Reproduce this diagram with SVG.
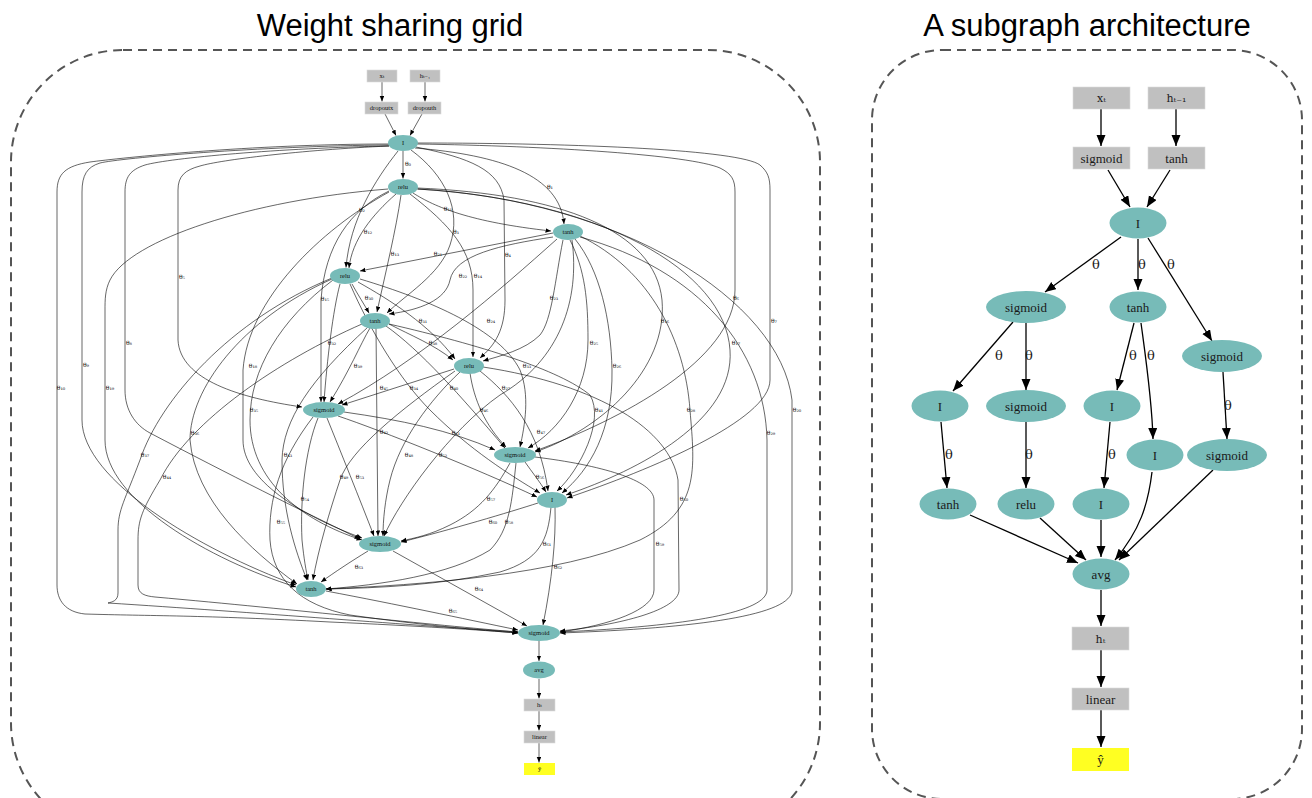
<svg xmlns="http://www.w3.org/2000/svg" width="1312" height="798" viewBox="0 0 1312 798">
<defs>
<marker id="al" markerUnits="userSpaceOnUse" markerWidth="6" markerHeight="5" refX="5.5" refY="2.25" orient="auto"><path d="M0,0 L5.5,2.25 L0,4.5z" fill="#000"/></marker>
<marker id="ar" markerUnits="userSpaceOnUse" markerWidth="12" markerHeight="10" refX="11" refY="4.5" orient="auto"><path d="M0,0 L11,4.5 L0,9z" fill="#000"/></marker>
</defs>
<style>
.n{fill:#77bbb8}
.b{fill:#c0c0c0;stroke:#dadada;stroke-width:0.6}
.y{fill:#ffff22}
.t{font-family:"Liberation Serif","DejaVu Serif",serif;font-size:6.5px;text-anchor:middle;fill:#111}
.l{font-family:"DejaVu Serif",serif;font-size:6px;text-anchor:middle;fill:#111}
.e{fill:none;stroke:#000;stroke-width:0.6;marker-end:url(#al)}
.E{fill:none;stroke:#000;stroke-width:1.3;marker-end:url(#ar)}
.T{font-family:"Liberation Serif","DejaVu Serif",serif;font-size:13px;text-anchor:middle;fill:#1a1a1a}
.S{font-family:"DejaVu Serif",serif;font-size:11px;text-anchor:middle;fill:#1a1a1a}
.L{font-family:"DejaVu Serif",serif;font-size:13px;text-anchor:middle;fill:#1a1a1a}
.frame{fill:none;stroke:#555;stroke-width:2;stroke-dasharray:9,6}
.title{font-family:"Liberation Sans",Arial,sans-serif;font-size:31px;text-anchor:middle;fill:#000}
</style>
<rect width="1312" height="798" fill="#fff"/>
<g id="panels">
<rect class="frame" x="11" y="50" width="809" height="785" rx="112" ry="112"/>
<rect class="frame" x="872" y="50" width="430" height="749" rx="70" ry="70"/>
<text class="title" x="390" y="36">Weight sharing grid</text>
<text class="title" x="1087" y="36">A subgraph architecture</text>
</g>

<g id="connectors-left">
<path class="e" d="M382,82 L382,101.5"/>
<path class="e" d="M425,82 L425,101.5"/>
<path class="e" d="M385,114 L396,135.5"/>
<path class="e" d="M422,114 L410,135.5"/>
<path class="e" d="M403,151 L403,178.5"/>
<path class="e" d="M415,148 C500,155 560,175 564,224"/>
<path class="e" d="M398,151 C375,180 350,220 346,267.5"/>
<path class="e" d="M411,150 C445,175 462,210 450,245 C440,275 405,295 387,313"/>
<path class="e" d="M416,147 C470,158 500,170 504,200 L505,300 C505,330 495,345 480,358"/>
<path class="e" d="M389,146 C300,150 220,160 200,166 C185,170 178,176 178,190 L178,340 C180,380 240,398 302,407"/>
<path class="e" d="M417,144 C550,146 690,155 720,168 C732,174 735,180 735,192 L735,290 C735,360 620,420 535,451"/>
<path class="e" d="M417,143 C580,143 740,150 760,165 C768,172 770,178 770,190 L770,380 C770,420 650,470 567,498"/>
<path class="e" d="M389,146 C280,148 170,158 145,165 C130,170 125,177 125,192 L125,390 C125,410 135,425 150,433 C230,475 300,510 360,539"/>
<path class="e" d="M389,145 C260,146 120,158 100,163 C87,167 82,175 82,192 L82,420 C82,480 200,550 296,585"/>
<path class="e" d="M389,144 C250,144 120,158 90,162 C65,166 57,174 57,192 L57,585 C57,600 65,612 85,614 C150,616 200,615 330,622 C420,626 480,630 518,633"/>
<path class="e" d="M413,193 C435,207 470,222 551,231"/>
<path class="e" d="M396,194 C372,215 352,240 349,268"/>
<path class="e" d="M401,195 C396,230 385,275 377,312"/>
<path class="e" d="M410,194 C450,225 473,250 473,290 L473,357"/>
<path class="e" d="M389,191 C350,210 325,245 321,300 L321,402"/>
<path class="e" d="M417,188 C560,194 655,230 662,300 C668,370 600,430 535,452"/>
<path class="e" d="M417,189 C600,200 725,270 730,350 C735,420 640,470 566,495"/>
<path class="e" d="M389,192 C320,230 248,300 243,370 L243,440 C243,480 300,515 362,538"/>
<path class="e" d="M388,189 C250,200 130,240 110,280 C105,290 105,300 105,310 L105,440 C105,500 210,560 296,587"/>
<path class="e" d="M418,189 C620,200 780,300 792,400 L792,590 C792,615 700,628 560,633"/>
<path class="e" d="M553,233 L360,271"/>
<path class="e" d="M553,237 C500,245 455,255 450,280 C446,300 420,310 389,314"/>
<path class="e" d="M563,240 C555,280 552,320 540,335 C525,350 500,356 483,361"/>
<path class="e" d="M557,239 C500,290 420,360 338,404"/>
<path class="e" d="M570,240 C585,270 588,300 588,340 C588,390 560,430 528,448"/>
<path class="e" d="M575,239 C600,270 611,320 612,370 C613,430 590,470 562,493"/>
<path class="e" d="M572,240 C580,300 560,360 500,395 C450,430 400,500 384,536"/>
<path class="e" d="M580,236 C650,270 685,340 690,410 C695,470 700,510 640,540 C560,575 420,585 326,589"/>
<path class="e" d="M580,237 C700,270 765,350 767,440 L767,590 C767,612 690,626 560,632"/>
<path class="e" d="M352,284 C358,295 364,304 369,313"/>
<path class="e" d="M358,282 C390,300 430,325 455,359"/>
<path class="e" d="M340,284 C333,310 327,360 324,402"/>
<path class="e" d="M360,279 C430,300 500,330 520,370 C530,395 525,425 520,447"/>
<path class="e" d="M350,284 C370,330 400,380 430,410 C470,450 510,475 540,493"/>
<path class="e" d="M333,280 C280,320 250,370 250,420 C250,480 300,520 362,540"/>
<path class="e" d="M332,279 C240,320 190,390 190,440 C195,500 250,550 297,584"/>
<path class="e" d="M332,278 C230,320 160,400 140,460 C125,500 118,510 118,530 L118,593 C118,601 112,602 108,603 C250,612 420,626 518,632"/>
<path class="e" d="M389,324 C410,335 435,345 453,360"/>
<path class="e" d="M370,328 C360,345 350,370 330,402"/>
<path class="e" d="M386,326 C420,350 460,395 505,448"/>
<path class="e" d="M389,324 C480,345 560,370 590,395 C605,420 580,470 557,491"/>
<path class="e" d="M376,328 L378,536"/>
<path class="e" d="M368,327 C310,380 283,420 282,460 C282,510 295,550 307,580"/>
<path class="e" d="M362,324 C280,360 190,420 160,480 C142,510 138,520 138,540 L138,585 C138,594 145,596 155,597 C300,610 430,625 518,632"/>
<path class="e" d="M454,369 L342,405"/>
<path class="e" d="M470,373 C474,400 485,425 506,447"/>
<path class="e" d="M480,371 C510,395 540,430 548,491"/>
<path class="e" d="M460,372 C430,400 400,440 390,480 C385,500 383,520 383,536"/>
<path class="e" d="M455,371 C400,410 350,450 340,480 C330,510 318,550 313,580"/>
<path class="e" d="M483,367 C600,385 670,430 678,480 L679,590 C679,610 620,625 560,631"/>
<path class="e" d="M344,412 C400,420 450,430 495,450"/>
<path class="e" d="M338,416 C380,430 480,470 537,497"/>
<path class="e" d="M327,418 C340,450 360,500 374,536"/>
<path class="e" d="M318,418 C305,450 300,500 302,540 C304,560 306,570 308,580"/>
<path class="e" d="M313,417 C280,460 268,500 270,540 C273,580 300,605 350,615 C420,625 480,630 518,633"/>
<path class="e" d="M525,462 C532,472 540,482 546,492"/>
<path class="e" d="M510,463 C495,490 480,510 450,525 C430,535 415,538 401,541"/>
<path class="e" d="M516,463 C512,500 510,530 490,550 C450,575 380,585 326,589"/>
<path class="e" d="M535,457 C600,465 654,480 654,500 L654,590 C654,610 610,625 560,632"/>
<path class="e" d="M538,503 C510,512 450,530 401,542"/>
<path class="e" d="M551,507 C548,540 540,560 500,572 C440,585 380,588 326,589"/>
<path class="e" d="M555,507 C556,540 552,580 543,625"/>
<path class="e" d="M368,551 C350,562 335,572 321,582"/>
<path class="e" d="M393,551 L527,626"/>
<path class="e" d="M326,591 C400,605 460,618 518,630"/>
<path class="e" d="M539,641 L539,661"/>
<path class="e" d="M539,679 L539,698.5"/>
<path class="e" d="M539,711 L539,730.5"/>
<path class="e" d="M539,743 L539,762.5"/>
</g>

<g id="edge-labels-left">
<text class="l" x="408" y="166">θ₀</text>
<text class="l" x="550" y="189">θ₁</text>
<text class="l" x="362" y="212">θ₂</text>
<text class="l" x="456" y="234">θ₃</text>
<text class="l" x="508" y="257">θ₄</text>
<text class="l" x="182" y="279">θ₅</text>
<text class="l" x="736" y="300">θ₆</text>
<text class="l" x="774" y="323">θ₇</text>
<text class="l" x="129" y="345">θ₈</text>
<text class="l" x="86" y="367">θ₉</text>
<text class="l" x="61" y="390">θ₁₀</text>
<text class="l" x="448" y="211">θ₁₁</text>
<text class="l" x="368" y="234">θ₁₂</text>
<text class="l" x="395" y="256">θ₁₃</text>
<text class="l" x="478" y="278">θ₁₄</text>
<text class="l" x="325" y="301">θ₁₅</text>
<text class="l" x="665" y="323">θ₁₆</text>
<text class="l" x="736" y="345">θ₁₇</text>
<text class="l" x="253" y="368">θ₁₈</text>
<text class="l" x="110" y="390">θ₁₉</text>
<text class="l" x="797" y="412">θ₂₀</text>
<text class="l" x="438" y="256">θ₂₁</text>
<text class="l" x="463" y="278">θ₂₂</text>
<text class="l" x="554" y="300">θ₂₃</text>
<text class="l" x="491" y="323">θ₂₄</text>
<text class="l" x="594" y="345">θ₂₅</text>
<text class="l" x="617" y="368">θ₂₆</text>
<text class="l" x="506" y="390">θ₂₇</text>
<text class="l" x="691" y="412">θ₂₈</text>
<text class="l" x="771" y="435">θ₂₉</text>
<text class="l" x="369" y="300">θ₃₀</text>
<text class="l" x="423" y="323">θ₃₁</text>
<text class="l" x="332" y="345">θ₃₂</text>
<text class="l" x="527" y="368">θ₃₃</text>
<text class="l" x="414" y="390">θ₃₄</text>
<text class="l" x="254" y="412">θ₃₅</text>
<text class="l" x="195" y="435">θ₃₆</text>
<text class="l" x="145" y="457">θ₃₇</text>
<text class="l" x="433" y="345">θ₃₈</text>
<text class="l" x="358" y="368">θ₃₉</text>
<text class="l" x="454" y="390">θ₄₀</text>
<text class="l" x="599" y="412">θ₄₁</text>
<text class="l" x="384" y="434">θ₄₂</text>
<text class="l" x="288" y="457">θ₄₃</text>
<text class="l" x="167" y="479">θ₄₄</text>
<text class="l" x="384" y="390">θ₄₅</text>
<text class="l" x="484" y="412">θ₄₆</text>
<text class="l" x="541" y="434">θ₄₇</text>
<text class="l" x="409" y="457">θ₄₈</text>
<text class="l" x="344" y="479">θ₄₉</text>
<text class="l" x="684" y="501">θ₅₀</text>
<text class="l" x="456" y="435">θ₅₁</text>
<text class="l" x="443" y="457">θ₅₂</text>
<text class="l" x="360" y="479">θ₅₃</text>
<text class="l" x="305" y="501">θ₅₄</text>
<text class="l" x="281" y="524">θ₅₅</text>
<text class="l" x="540" y="479">θ₅₆</text>
<text class="l" x="491" y="501">θ₅₇</text>
<text class="l" x="509" y="524">θ₅₈</text>
<text class="l" x="660" y="546">θ₅₉</text>
<text class="l" x="493" y="524">θ₆₀</text>
<text class="l" x="547" y="546">θ₆₁</text>
<text class="l" x="558" y="569">θ₆₂</text>
<text class="l" x="359" y="569">θ₆₃</text>
<text class="l" x="479" y="591">θ₆₄</text>
<text class="l" x="453" y="613">θ₆₅</text>
</g>

<g id="l-xt"><rect class="b" x="367" y="70" width="30" height="12"/><text class="t" x="382" y="78.3">xₜ</text></g>
<g id="l-ht1"><rect class="b" x="410" y="70" width="30" height="12"/><text class="t" x="425" y="78.3">hₜ₋₁</text></g>
<g id="l-dropoutx"><rect class="b" x="365" y="102" width="33" height="12"/><text class="t" x="381.5" y="110.3">dropoutx</text></g>
<g id="l-dropouth"><rect class="b" x="408" y="102" width="33" height="12"/><text class="t" x="424.5" y="110.3">dropouth</text></g>
<g id="l-n0"><ellipse class="n" cx="403" cy="143" rx="15" ry="8"/><text class="t" x="403" y="145.3">I</text></g>
<g id="l-n1"><ellipse class="n" cx="403" cy="187" rx="15" ry="8"/><text class="t" x="403" y="189.3">relu</text></g>
<g id="l-n2"><ellipse class="n" cx="568" cy="232" rx="15" ry="8"/><text class="t" x="568" y="234.3">tanh</text></g>
<g id="l-n3"><ellipse class="n" cx="345" cy="276" rx="15" ry="8"/><text class="t" x="345" y="278.3">relu</text></g>
<g id="l-n4"><ellipse class="n" cx="375" cy="321" rx="15" ry="8"/><text class="t" x="375" y="323.3">tanh</text></g>
<g id="l-n5"><ellipse class="n" cx="469" cy="366" rx="15" ry="8"/><text class="t" x="469" y="368.3">relu</text></g>
<g id="l-n6"><ellipse class="n" cx="324" cy="410" rx="21" ry="8"/><text class="t" x="324" y="412.3">sigmoid</text></g>
<g id="l-n7"><ellipse class="n" cx="515" cy="455" rx="21" ry="8"/><text class="t" x="515" y="457.3">sigmoid</text></g>
<g id="l-n8"><ellipse class="n" cx="552" cy="500" rx="15" ry="8"/><text class="t" x="552" y="502.3">I</text></g>
<g id="l-n9"><ellipse class="n" cx="380" cy="544" rx="21" ry="8"/><text class="t" x="380" y="546.3">sigmoid</text></g>
<g id="l-n10"><ellipse class="n" cx="311" cy="589" rx="15" ry="8"/><text class="t" x="311" y="591.3">tanh</text></g>
<g id="l-n11"><ellipse class="n" cx="539" cy="633" rx="21" ry="8"/><text class="t" x="539" y="635.3">sigmoid</text></g>
<g id="l-avg"><ellipse class="n" cx="539" cy="670" rx="16" ry="8.5"/><text class="t" x="539" y="672.3">avg</text></g>
<g id="l-ht"><rect class="b" x="524" y="699" width="31" height="12"/><text class="t" x="539.5" y="707.3">hₜ</text></g>
<g id="l-linear"><rect class="b" x="524" y="731" width="31" height="12"/><text class="t" x="539.5" y="739.3">linear</text></g>
<g id="l-yhat"><rect class="y" x="524" y="763" width="31" height="12"/><text class="t" x="539.5" y="771.3">ŷ</text></g>

<g id="connectors-right">
<path class="E" d="M1101,109 L1101,146"/>
<path class="E" d="M1176,109 L1176,146"/>
<path class="E" d="M1108,170 L1130,207"/>
<path class="E" d="M1170,170 L1147,207"/>
<path class="E" d="M1121,237 L1045,292"/>
<path class="E" d="M1138,239 L1138,290"/>
<path class="E" d="M1148,238 L1212,341"/>
<path class="E" d="M1013,322 L953,391"/>
<path class="E" d="M1026,323 L1026,390"/>
<path class="E" d="M1134,323 L1117,390"/>
<path class="E" d="M1141,323 C1146,360 1152,400 1153,439"/>
<path class="E" d="M1223,372 L1227,439"/>
<path class="E" d="M941,422 L947,488"/>
<path class="E" d="M1026,422 L1026,488"/>
<path class="E" d="M1110,422 L1104,488"/>
<path class="E" d="M970,515 L1078,563"/>
<path class="E" d="M1040,518 L1086,560"/>
<path class="E" d="M1101,520 L1101,557"/>
<path class="E" d="M1152,472 C1148,505 1140,530 1115,560"/>
<path class="E" d="M1213,470 L1119,560"/>
<path class="E" d="M1101,590 L1101,626"/>
<path class="E" d="M1101,650 L1101,687"/>
<path class="E" d="M1101,710 L1101,747"/>
</g>
<g id="edge-labels-right">
<text class="L" x="1096" y="269">θ</text>
<text class="L" x="1142" y="269">θ</text>
<text class="L" x="1171" y="269">θ</text>
<text class="L" x="999" y="360">θ</text>
<text class="L" x="1029" y="360">θ</text>
<text class="L" x="1133" y="360">θ</text>
<text class="L" x="1151" y="360">θ</text>
<text class="L" x="1228" y="410">θ</text>
<text class="L" x="949" y="459">θ</text>
<text class="L" x="1029" y="459">θ</text>
<text class="L" x="1112" y="459">θ</text>
</g>

<g id="r-xt"><rect class="b" x="1073" y="87" width="57" height="22"/><text class="S" x="1101.5" y="102">xₜ</text></g>
<g id="r-ht1"><rect class="b" x="1148" y="87" width="57" height="22"/><text class="S" x="1176.5" y="102">hₜ₋₁</text></g>
<g id="r-sig0"><rect class="b" x="1073" y="147" width="57" height="22"/><text class="T" x="1101.5" y="162.5">sigmoid</text></g>
<g id="r-tanh0"><rect class="b" x="1148" y="147" width="57" height="22"/><text class="T" x="1176.5" y="162.5">tanh</text></g>
<g id="r-I"><ellipse class="n" cx="1138" cy="223" rx="28.5" ry="15.5"/><text class="T" x="1138" y="227.5">I</text></g>
<g id="r-sig1"><ellipse class="n" cx="1026" cy="307" rx="40" ry="16"/><text class="T" x="1026" y="311.5">sigmoid</text></g>
<g id="r-tanh1"><ellipse class="n" cx="1138" cy="307" rx="28.5" ry="15.5"/><text class="T" x="1138" y="311.5">tanh</text></g>
<g id="r-sig2"><ellipse class="n" cx="1222" cy="356" rx="40" ry="16"/><text class="T" x="1222" y="360.5">sigmoid</text></g>
<g id="r-I2"><ellipse class="n" cx="940" cy="406" rx="28.5" ry="15.5"/><text class="T" x="940" y="410.5">I</text></g>
<g id="r-sig3"><ellipse class="n" cx="1026" cy="406" rx="40" ry="16"/><text class="T" x="1026" y="410.5">sigmoid</text></g>
<g id="r-I3"><ellipse class="n" cx="1112" cy="406" rx="28.5" ry="15.5"/><text class="T" x="1112" y="410.5">I</text></g>
<g id="r-I4"><ellipse class="n" cx="1155" cy="455" rx="28.5" ry="15.5"/><text class="T" x="1155" y="459.5">I</text></g>
<g id="r-sig4"><ellipse class="n" cx="1227" cy="455" rx="40" ry="16"/><text class="T" x="1227" y="459.5">sigmoid</text></g>
<g id="r-tanh2"><ellipse class="n" cx="948" cy="504" rx="28.5" ry="15.5"/><text class="T" x="948" y="508.5">tanh</text></g>
<g id="r-relu"><ellipse class="n" cx="1026" cy="504" rx="28.5" ry="15.5"/><text class="T" x="1026" y="508.5">relu</text></g>
<g id="r-I5"><ellipse class="n" cx="1101" cy="504" rx="28.5" ry="15.5"/><text class="T" x="1101" y="508.5">I</text></g>
<g id="r-avg"><ellipse class="n" cx="1101" cy="574" rx="28.5" ry="15.5"/><text class="T" x="1101" y="578.5">avg</text></g>
<g id="r-ht"><rect class="b" x="1072" y="627" width="57" height="23"/><text class="S" x="1100.5" y="642.5">hₜ</text></g>
<g id="r-linear"><rect class="b" x="1072" y="688" width="57" height="22"/><text class="T" x="1100.5" y="703.5">linear</text></g>
<g id="r-yhat"><rect class="y" x="1072" y="748" width="57" height="23"/><text class="T" x="1100.5" y="764">ŷ</text></g>
</svg>
